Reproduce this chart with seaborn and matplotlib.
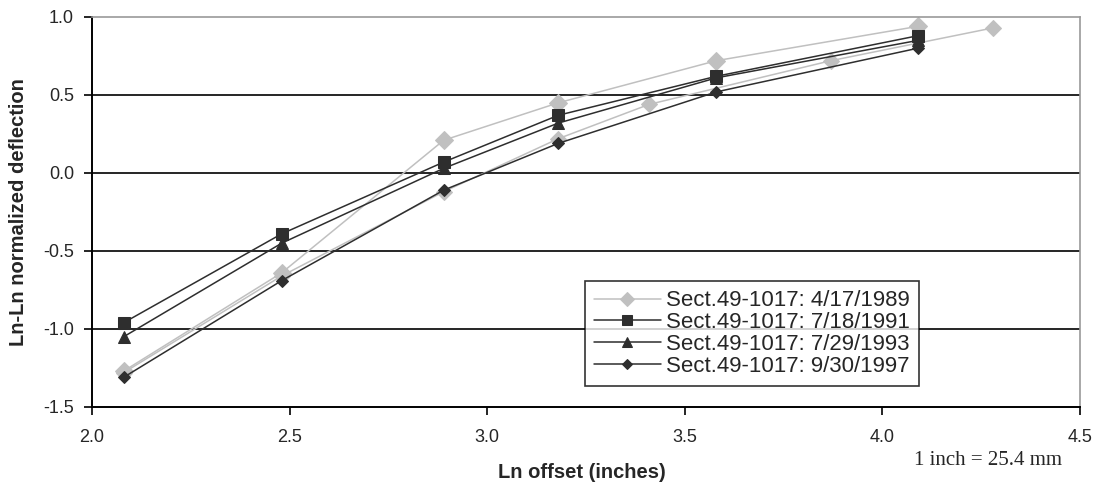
import seaborn as sns
import matplotlib.pyplot as plt
import pandas as pd

# Ln offset (inches) / Ln-Ln normalized deflection
x_1989 = [2.08, 2.48, 2.89, 3.18, 3.58, 4.09]
y_1989 = [-1.27, -0.64, 0.21, 0.45, 0.72, 0.94]
# second light-grey trace of the 1989 data (no legend entry in the source)
x_1989b = [2.08, 2.48, 2.89, 3.18, 3.41, 3.87, 4.28]
y_1989b = [-1.28, -0.66, -0.12, 0.22, 0.44, 0.72, 0.93]
x_std = [2.08, 2.48, 2.89, 3.18, 3.58, 4.09]
y_1991 = [-0.96, -0.39, 0.07, 0.37, 0.62, 0.88]
y_1993 = [-1.05, -0.45, 0.03, 0.32, 0.61, 0.85]
y_1997 = [-1.31, -0.69, -0.11, 0.19, 0.52, 0.80]

labels = ["Sect.49-1017: 4/17/1989", "Sect.49-1017: 7/18/1991",
          "Sect.49-1017: 7/29/1993", "Sect.49-1017: 9/30/1997"]
x_ticks = [2.0, 2.5, 3.0, 3.5, 4.0, 4.5]
y_ticks = [-1.5, -1.0, -0.5, 0.0, 0.5, 1.0]

sns.set_style("white")
plt.rcParams['font.family'] = ['Liberation Sans', 'DejaVu Sans']

fig = plt.figure(figsize=(10.99, 4.87), dpi=100)
ax = fig.add_axes([0.0837, 0.1643, 0.8990, 0.8008])

grey = "#c0c0c0"
dark = "#2e2e2e"

df_b = pd.DataFrame({"x": x_1989b, "y": y_1989b})
sns.lineplot(data=df_b, x="x", y="y", ax=ax, sort=False, color=grey, lw=1.1,
             marker="D", markersize=8.5, markeredgecolor=grey, legend=False)

series = [
    (x_1989, y_1989, labels[0], grey, "D", 9.5),
    (x_std, y_1991, labels[1], dark, "s", 8.5),
    (x_std, y_1993, labels[2], dark, "^", 8.5),
    (x_std, y_1997, labels[3], dark, "D", 6.5),
]
for xs, ys, lab, col, mk, ms in series:
    d = pd.DataFrame({"x": xs, "y": ys})
    sns.lineplot(data=d, x="x", y="y", ax=ax, sort=False, color=col, lw=1.1,
                 marker=mk, markersize=ms, markeredgecolor=col, label=lab)

ax.set_xlim(2.0, 4.5)
ax.set_ylim(-1.5, 1.0)
ax.set_xticks(x_ticks)
ax.set_yticks(y_ticks)
ax.set_xticklabels([f"{v:.1f}" for v in x_ticks], fontsize=13)
ax.set_yticklabels([f"{v:.1f}" for v in y_ticks], fontsize=13)
ax.tick_params(axis="x", direction="out", length=6, width=1.2, color="black", pad=10, bottom=True)
ax.tick_params(axis="y", direction="out", length=6, width=1.2, color="black", pad=7, left=True)

for v in y_ticks[1:-1]:
    ax.axhline(v, color="black", lw=1.2, zorder=0)

for s in ["left", "bottom"]:
    ax.spines[s].set_color("black")
    ax.spines[s].set_linewidth(1.4)
for s in ["top", "right"]:
    ax.spines[s].set_color("#999999")
    ax.spines[s].set_linewidth(1.2)

ax.set_xlabel("")
ax.set_ylabel("")
ax.text(-0.0739, 0.5, "Ln-Ln normalized deflection", transform=ax.transAxes, rotation=90,
        ha="center", va="center", fontsize=14.5, fontweight="bold")
ax.text(0.496, -0.169, "Ln offset (inches)", transform=ax.transAxes, ha="center", va="center",
        fontsize=14.5, fontweight="bold")
ax.text(0.907, -0.136, "1 inch = 25.4 mm", transform=ax.transAxes, ha="center", va="center",
        fontsize=15, family=["Liberation Serif", "DejaVu Serif"])

leg = ax.legend(loc="lower left", bbox_to_anchor=(0.499, 0.054), fontsize=16, frameon=True,
                fancybox=False, borderpad=0.4, labelspacing=0.04, handlelength=3.0,
                handletextpad=0.25, borderaxespad=0, markerscale=0.8)
leg.get_frame().set_edgecolor("black")
leg.get_frame().set_linewidth(1.2)

fig.savefig("out.png", dpi=100)
